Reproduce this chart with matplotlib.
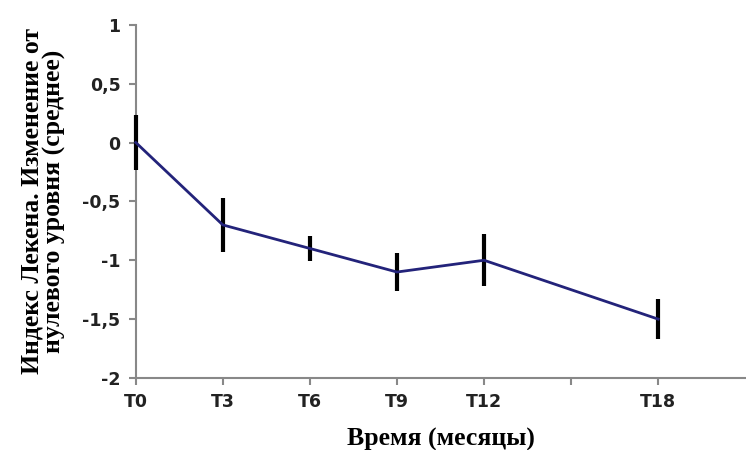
import matplotlib
matplotlib.use("Agg")
import matplotlib.pyplot as plt

plt.rcParams['font.family'] = 'DejaVu Sans'

# data
months = [0, 3, 6, 9, 12, 18]
tick_pos = [0, 3, 6, 9, 12, 15, 18]
tick_labels = ['T0', 'T3', 'T6', 'T9', 'T12', '', 'T18']
y_ticks = [-2, -1.5, -1, -0.5, 0, 0.5, 1]
mean_change = [0.0, -0.7, -0.9, -1.1, -1.0, -1.5]
err = [0.23, 0.23, 0.11, 0.16, 0.22, 0.17]

fig = plt.figure(figsize=(7.46, 4.5), dpi=100)
ax = fig.add_axes([0.182, 0.16, 0.817, 0.785])

eb = ax.errorbar(months, mean_change, yerr=err, fmt='none', ecolor='black',
                 elinewidth=3, capsize=0, zorder=3)
for c in eb.lines[2]:
    c.set_clip_on(False)
ax.plot(months, mean_change, color='#23237a', lw=2, zorder=4, clip_on=False)

ax.set_xlim(0, 21)
ax.set_ylim(-2, 1)
ax.set_xticks(tick_pos)
ax.set_xticklabels(tick_labels, fontweight='bold')
ax.set_yticks(y_ticks)
ax.set_yticklabels([('%g' % v).replace('.', ',') for v in y_ticks],
                   fontweight='bold')

for s in ['top', 'right']:
    ax.spines[s].set_visible(False)
for s in ['left', 'bottom']:
    ax.spines[s].set_color('#888888')
    ax.spines[s].set_linewidth(1.5)
ax.tick_params(direction='out', length=5, width=1.5, color='#888888',
               labelsize=12.5, labelcolor='#222222', pad=6)

ax.set_xlabel('Время (месяцы)', family='Liberation Serif', fontweight='bold',
              fontsize=18.5, labelpad=12)
ax.set_ylabel('Индекс Лекена. Изменение от\nнулевого уровня (среднее)',
              family='Liberation Serif', fontweight='bold', fontsize=18.5,
              labelpad=12, linespacing=0.95)

fig.savefig('out.png', dpi=100)
